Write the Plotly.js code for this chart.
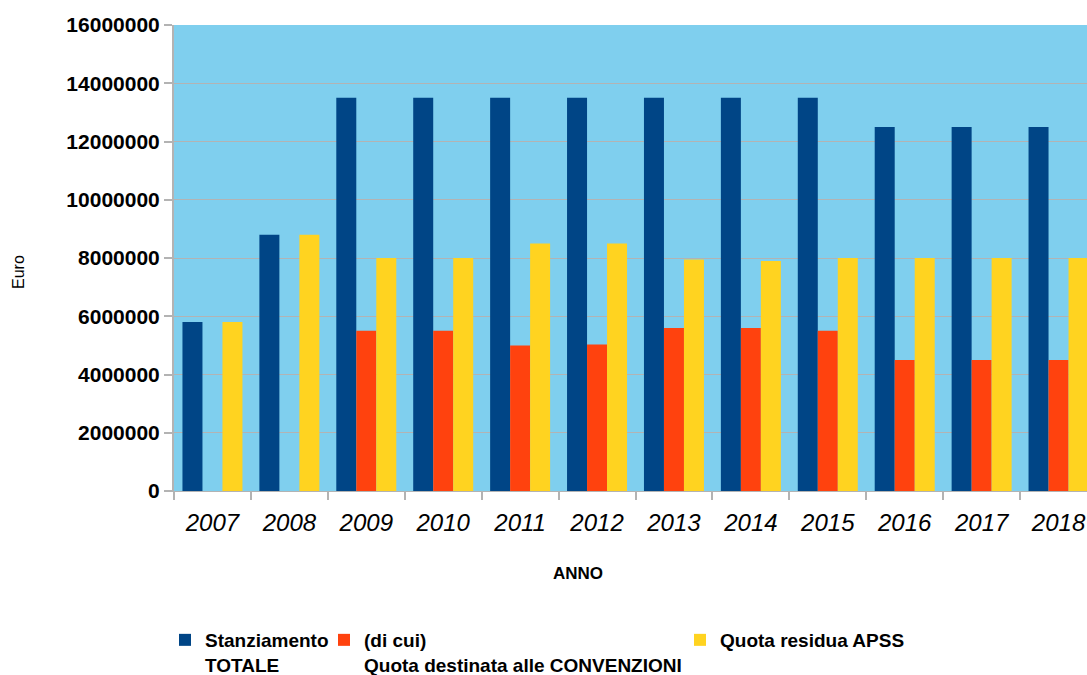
<!DOCTYPE html>
<html>
<head>
<meta charset="utf-8">
<script src="https://cdn.plot.ly/plotly-3.0.1.min.js"></script>
<style>html,body{margin:0;padding:0;background:#fff;}#chart{width:1087px;height:675px;}</style>
</head>
<body>
<div id="chart"></div>
<script>
const years = ['2007','2008','2009','2010','2011','2012','2013','2014','2015','2016','2017','2018'];
const stanziamento = [5800000, 8800000, 13500000, 13500000, 13500000, 13500000, 13500000, 13500000, 13500000, 12500000, 12500000, 12500000];
const convenzioni = [null, null, 5500000, 5500000, 5000000, 5030000, 5600000, 5600000, 5500000, 4500000, 4500000, 4500000];
const residua = [5800000, 8800000, 8000000, 8000000, 8500000, 8500000, 7950000, 7900000, 8000000, 8000000, 8000000, 8000000];
const seriesNames = ['Stanziamento<br>TOTALE', '(di cui)<br>Quota destinata alle CONVENZIONI', 'Quota residua APSS'];
const yTicks = [0, 2000000, 4000000, 6000000, 8000000, 10000000, 12000000, 14000000, 16000000];

const W = 1087, H = 675, L = 174, R = 0;
const pw = W - L - R;
const px = v => (v - L) / pw;

const legendFont = {family: '"Liberation Sans", Arial, sans-serif', size: 19, color: '#000', weight: 'bold'};
const traces = [
  {type: 'bar', x: years, y: stanziamento, name: seriesNames[0], marker: {color: '#004586'}, legend: 'legend'},
  {type: 'bar', x: years, y: convenzioni, name: seriesNames[1], marker: {color: '#ff420e'}, legend: 'legend2'},
  {type: 'bar', x: years, y: residua, name: seriesNames[2], marker: {color: '#ffd320'}, legend: 'legend3'}
];
const legBase = {orientation: 'h', xref: 'container', yref: 'container', yanchor: 'top', xanchor: 'left', y: (H - 621) / H, font: legendFont, bgcolor: 'rgba(0,0,0,0)', itemwidth: 30, valign: 'top', tracegroupgap: 0};
const layout = {
  width: W, height: H,
  margin: {l: L, r: R, t: 25, b: 184, autoexpand: false},
  paper_bgcolor: '#ffffff',
  plot_bgcolor: '#7fcfee',
  barmode: 'group', bargap: 0.22, bargroupgap: 0,
  showlegend: true,
  font: {family: '"Liberation Sans", Arial, sans-serif', color: '#000'},
  xaxis: {
    type: 'category', range: [-0.5, 11.37],
    tickson: 'boundaries', ticks: 'outside', ticklen: 8, tickcolor: '#b3b3b3', tickwidth: 2,
    showline: true, linecolor: '#b3b3b3', linewidth: 1,
    showgrid: false, ticklabelstandoff: 10,
    tickfont: {family: '"Liberation Sans", Arial, sans-serif', size: 24, style: 'italic', color: '#000'},
    automargin: false
  },
  yaxis: {
    range: [0, 16000000], tickvals: yTicks, ticktext: yTicks.map(v => String(v)),
    ticks: 'outside', ticklen: 8, tickcolor: '#b3b3b3', tickwidth: 2,
    showline: true, linecolor: '#b3b3b3', linewidth: 2,
    gridcolor: '#b3b3b3', gridwidth: 1,
    zeroline: false,
    tickfont: {family: '"Liberation Sans", Arial, sans-serif', size: 21, weight: 'bold', color: '#000'},
    automargin: false
  },
  legend: Object.assign({}, legBase, {x: 165 / W}),
  legend2: Object.assign({}, legBase, {x: 324 / W}),
  legend3: Object.assign({}, legBase, {x: 680 / W}),
  annotations: [
    {text: 'Euro', xref: 'paper', yref: 'paper', x: px(18), y: (491 - 272) / 466, xanchor: 'center', yanchor: 'middle', textangle: -90, showarrow: false, font: {size: 16, color: '#000'}},
    {text: 'ANNO', xref: 'paper', yref: 'paper', x: px(578), y: (491 - 573) / 466, xanchor: 'center', yanchor: 'middle', showarrow: false, font: {size: 17, color: '#000', weight: 'bold'}}
  ]
};
Plotly.newPlot('chart', traces, layout, {displayModeBar: false, staticPlot: true});
</script>
</body>
</html>
